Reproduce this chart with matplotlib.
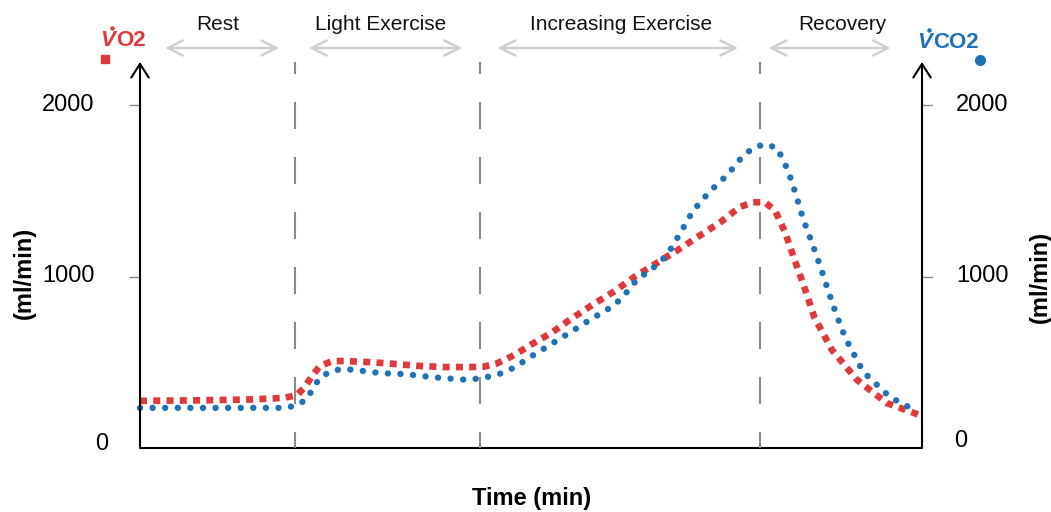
import numpy as np
import matplotlib.pyplot as plt
from matplotlib.transforms import blended_transform_factory

plt.rcParams['font.family'] = ['Liberation Sans', 'DejaVu Sans']

# Data (time in arbitrary units 0-100, rates in ml/min)
t_vo2 = [0.0, 7.7, 14.1, 18.4, 20.1, 21.1, 22.0, 23.0, 24.6, 26.1, 29.3, 32.6,
         35.8, 39.0, 42.2, 43.9, 45.5, 46.9, 48.3, 49.7, 52.6, 55.1, 57.9, 60.6,
         63.3, 66.1, 68.8, 71.5, 74.2, 76.7, 78.4, 79.9, 81.2, 82.5, 83.6, 84.7,
         85.7, 86.2, 88.5, 91.7, 95.5, 100.0]
vo2 = [275, 278, 283, 292, 309, 357, 420, 478, 507, 507, 501, 490,
       478, 472, 472, 474, 491, 519, 554, 595, 671, 752, 836, 912,
       1000, 1079, 1155, 1236, 1316, 1405, 1433, 1433, 1386, 1257, 1111, 971,
       836, 766, 571, 397, 262, 187]

t_vco2 = [0.0, 7.7, 18.3, 19.9, 21.4, 22.1, 23.0, 24.4, 26.0, 27.5, 30.7, 33.9,
          37.1, 40.4, 41.9, 43.6, 45.1, 46.7, 48.2, 49.5, 52.2, 54.9, 57.7, 60.5,
          61.6, 62.7, 63.7, 65.0, 66.2, 67.4, 69.1, 70.7, 72.8, 75.1, 77.1, 78.4,
          79.9, 81.5, 82.9, 83.9, 84.8, 85.9, 87.0, 88.0, 89.0, 90.2, 92.5, 95.9, 98.8]
vco2 = [234, 234, 234, 246, 286, 350, 408, 449, 461, 455, 437, 431,
        414, 402, 397, 408, 420, 443, 478, 519, 595, 671, 752, 828,
        875, 933, 991, 1026, 1073, 1125, 1254, 1382, 1493, 1592, 1703, 1749,
        1772, 1749, 1614, 1475, 1335, 1200, 1058, 918, 784, 641, 443, 297, 227]

phase_bounds = [19.8, 43.5, 79.3]
phase_names = ['Rest', 'Light Exercise', 'Increasing Exercise', 'Recovery']
phase_label_x = [10.0, 30.8, 61.5, 89.8]
phase_arrows = [(3.2, 17.8), (21.6, 41.2), (45.7, 76.5), (80.4, 96.0)]

ytick_vals = [0, 1000, 2000]
ytick_text = ['0', '1000', '2000']

red = '#E0393C'
blue = '#1F72B6'

W, H = 1051, 512
fig = plt.figure(figsize=(W / 100, H / 100), dpi=100)
ax = fig.add_axes([140 / W, 64 / H, 782 / W, 386 / H])
ax.set_xlim(0, 100)
ax.set_ylim(0, 386 / 171.5 * 1000)
ax.axis('off')


def fy(px):
    # pixel row from top -> figure fraction
    return 1 - px / H


# axes lines with arrows
ax.plot([0, 100], [0, 0], color='black', lw=1.5, solid_capstyle='butt', clip_on=False)
for xa in [0, 100]:
    ax.annotate('', xy=(xa, ax.get_ylim()[1]), xytext=(xa, 0),
                arrowprops=dict(arrowstyle='->,head_length=0.7,head_width=0.45',
                                color='black', lw=1.5, shrinkA=0, shrinkB=0,
                                mutation_scale=14))

# small tick marks
for v in [1000, 2000]:
    ax.plot([-1.3, 0], [v, v], color='#888888', lw=1.0, clip_on=False)
    ax.plot([100, 101.3], [v, v], color='#888888', lw=1.0, clip_on=False)

# tick labels
ytr = ax.get_yaxis_transform()
for v, s in zip(ytick_vals, ytick_text):
    lx = -0.049 if v == 0 else -0.092
    rx = 1.050 if v == 0 else 1.077
    ax.text(lx, v + (25 if v == 0 else 0), s, transform=ytr, ha='center', va='center',
            fontsize=17, clip_on=False)
    ax.text(rx, v + (40 if v == 0 else 0), s, transform=ytr, ha='center', va='center',
            fontsize=17, clip_on=False)

# phase boundaries
for b in phase_bounds:
    ax.plot([b, b], [0, ax.get_ylim()[1]], color='#8a8a8a', lw=1.5,
            linestyle=(5.3, (13.0, 13.4)), clip_on=False)

# data lines
ax.plot(t_vo2, vo2, color=red, lw=4.8, linestyle=(0, (1.05, 0.94)),
        dash_capstyle='butt', clip_on=False)
ax.plot(t_vco2, vco2, color=blue, lw=4.6, linestyle=(0, (0.01, 1.96)),
        dash_capstyle='round', clip_on=False)

# phase labels and arrows
bt = blended_transform_factory(ax.transData, fig.transFigure)
for name, lx in zip(phase_names, phase_label_x):
    ax.text(lx, fy(24), name, transform=bt, ha='center', va='center',
            fontsize=15, color='#111111')
for x0, x1 in phase_arrows:
    ax.annotate('', xy=(x1, fy(48)), xytext=(x0, fy(48)),
                xycoords=('data', 'figure fraction'),
                textcoords=('data', 'figure fraction'),
                arrowprops=dict(arrowstyle='<->,head_length=0.9,head_width=0.45',
                                color='#cfcfcf', lw=1.8, shrinkA=0, shrinkB=0,
                                mutation_scale=12))

# series labels: italic V with a dot above, then the rest
fig.text(108 / W, fy(40), 'V', color=red, fontsize=16, fontweight='bold',
         style='italic', ha='center', va='center')
fig.text(116 / W, fy(40), 'O2', color=red, fontsize=16, fontweight='bold',
         ha='left', va='center')
fig.text(925 / W, fy(42), 'V', color=blue, fontsize=16, fontweight='bold',
         style='italic', ha='center', va='center')
fig.text(933 / W, fy(42), 'CO2', color=blue, fontsize=16, fontweight='bold',
         ha='left', va='center')
fig.lines.append(plt.Line2D([112 / W], [fy(28)], marker='o', markersize=2.2,
                            color=red, transform=fig.transFigure, figure=fig))
fig.lines.append(plt.Line2D([929 / W], [fy(30)], marker='o', markersize=2.2,
                            color=blue, transform=fig.transFigure, figure=fig))
fig.patches.append(plt.Rectangle((101 / W, fy(63)), 8 / W, 8 / H, color=red,
                                 transform=fig.transFigure, figure=fig))
fig.lines.append(plt.Line2D([980 / W], [fy(60)], marker='o', markersize=7,
                            color=blue, transform=fig.transFigure, figure=fig))

# axis titles
fig.text(24 / W, fy(273), '(ml/min)', rotation=90, fontsize=17, fontweight='bold',
         ha='center', va='center')
fig.text(1040 / W, fy(277), '(ml/min)', rotation=90, fontsize=17, fontweight='bold',
         ha='center', va='center')
fig.text(532 / W, fy(498), 'Time (min)', fontsize=17, fontweight='bold',
         ha='center', va='center')

fig.savefig('out.png', dpi=100)
